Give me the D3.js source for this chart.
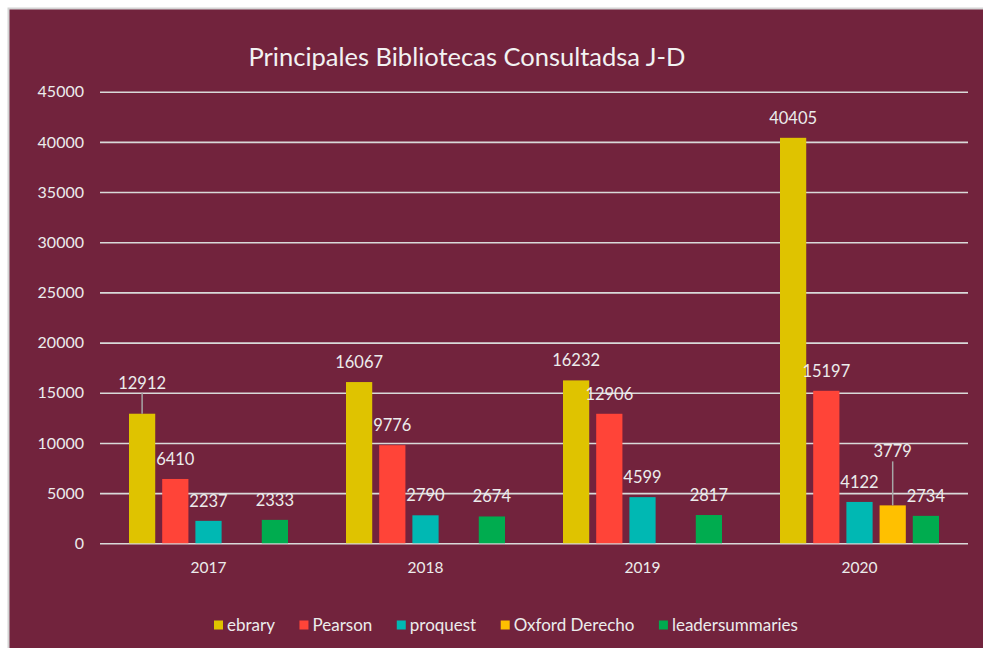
<!DOCTYPE html>
<html>
<head>
<meta charset="utf-8">
<script src="https://cdn.jsdelivr.net/npm/d3@7"></script>
<style>
  html, body { margin: 0; padding: 0; background: #ffffff; }
  svg { display: block; font-family: Lato, "Open Sans", sans-serif; }
</style>
</head>
<body>
<div id="chart"></div>
<script>
// chart data
var years = ["2017", "2018", "2019", "2020"];
var series = ["ebrary", "Pearson", "proquest", "Oxford Derecho", "leadersummaries"];
var ebrary = [12912, 16067, 16232, 40405];
var pearson = [6410, 9776, 12906, 15197];
var proquest = [2237, 2790, 4599, 4122];
var oxford = [null, null, null, 3779];
var leaders = [2333, 2674, 2817, 2734];
var yTicks = [0, 5000, 10000, 15000, 20000, 25000, 30000, 35000, 40000, 45000];

var colors = ["#dfc300", "#ff4438", "#00b8b3", "#ffc000", "#00ac4f"];
var valuesBySeries = [ebrary, pearson, proquest, oxford, leaders];

// labels that sit higher with a leader line (extra lift in px)
var leaderLift = { "2017|ebrary": 11, "2020|Oxford Derecho": 34 };

var width = 983, height = 648;
var plotL = 100, plotR = 968, plotT = 91.7, plotB = 543.3;

var svg = d3.select("#chart")
  .append("svg")
    .attr("width", width)
    .attr("height", height);

// frame + background
svg.append("rect")
  .attr("x", 8.5).attr("y", 8.5)
  .attr("width", width).attr("height", height)
  .attr("fill", "#72233d")
  .attr("stroke", "#d4d4d4")
  .attr("stroke-width", 2);

// title
svg.append("text")
  .attr("x", 467).attr("y", 66)
  .attr("text-anchor", "middle")
  .attr("fill", "#f2f2f2")
  .style("font-size", "25.5px")
  .text("Principales Bibliotecas Consultadsa J-D");

var y = d3.scaleLinear().domain([0, 45000]).range([plotB, plotT]);

var x0 = d3.scaleBand().domain(years).range([plotL, plotR]);
var x1 = d3.scaleBand().domain(series)
  .range([29, x0.bandwidth() - 29])
  .paddingInner(0.21);

// y axis + gridlines
var yAxis = svg.append("g")
  .attr("transform", "translate(" + plotL + ",0)")
  .call(d3.axisLeft(y).tickValues(yTicks).tickFormat(d3.format("d"))
    .tickSizeInner(-(plotR - plotL)).tickSizeOuter(0).tickPadding(16));
yAxis.select(".domain").remove();
yAxis.selectAll("line").attr("stroke", "#d9d9d9").attr("stroke-width", 1.6);
yAxis.selectAll("text")
  .attr("fill", "#ececec")
  .style("font-size", "16px")
  .style("font-family", "Lato, sans-serif");

// x axis labels
var xAxis = svg.append("g")
  .attr("transform", "translate(0," + plotB + ")")
  .call(d3.axisBottom(x0).tickSize(0).tickPadding(19));
xAxis.select(".domain").remove();
xAxis.selectAll("text")
  .attr("fill", "#ececec")
  .style("font-size", "15.5px")
  .style("font-family", "Lato, sans-serif");

// flatten for drawing
var rows = [];
years.forEach(function(yr, i) {
  series.forEach(function(s, j) {
    var v = valuesBySeries[j][i];
    if (v != null) rows.push({ year: yr, series: s, value: v, color: colors[j] });
  });
});

var groups = svg.append("g");

groups.selectAll("rect")
  .data(rows)
  .enter()
  .append("rect")
    .attr("x", function(d) { return x0(d.year) + x1(d.series); })
    .attr("y", function(d) { return y(d.value); })
    .attr("width", x1.bandwidth())
    .attr("height", function(d) { return plotB - y(d.value); })
    .attr("fill", function(d) { return d.color; });

// leader lines
groups.selectAll("line.leader")
  .data(rows.filter(function(d) { return leaderLift[d.year + "|" + d.series]; }))
  .enter()
  .append("line")
    .attr("class", "leader")
    .attr("x1", function(d) { return x0(d.year) + x1(d.series) + x1.bandwidth() / 2; })
    .attr("x2", function(d) { return x0(d.year) + x1(d.series) + x1.bandwidth() / 2; })
    .attr("y1", function(d) { return y(d.value); })
    .attr("y2", function(d) { return y(d.value) - 14 - leaderLift[d.year + "|" + d.series] + 4; })
    .attr("stroke", "#a6a6a6")
    .attr("stroke-width", 1.5);

// value labels
groups.selectAll("text.val")
  .data(rows)
  .enter()
  .append("text")
    .attr("class", "val")
    .attr("x", function(d) { return x0(d.year) + x1(d.series) + x1.bandwidth() / 2; })
    .attr("y", function(d) { return y(d.value) - 14 - (leaderLift[d.year + "|" + d.series] || 0); })
    .attr("text-anchor", "middle")
    .attr("fill", "#ececec")
    .style("font-size", "16.5px")
    .text(function(d) { return d.value; });

// legend
var legend = svg.append("g").attr("transform", "translate(214,625)");
var lx = 0;
series.forEach(function(s, j) {
  var item = legend.append("g").attr("transform", "translate(" + lx + ",0)");
  item.append("rect")
    .attr("x", 0).attr("y", -4.5)
    .attr("width", 9).attr("height", 9)
    .attr("fill", colors[j]);
  var t = item.append("text")
    .attr("x", 13).attr("y", 6)
    .attr("fill", "#ececec")
    .style("font-size", "17px")
    .text(s);
  lx += 13 + t.node().getComputedTextLength() + 24.5;
});
</script>
</body>
</html>
